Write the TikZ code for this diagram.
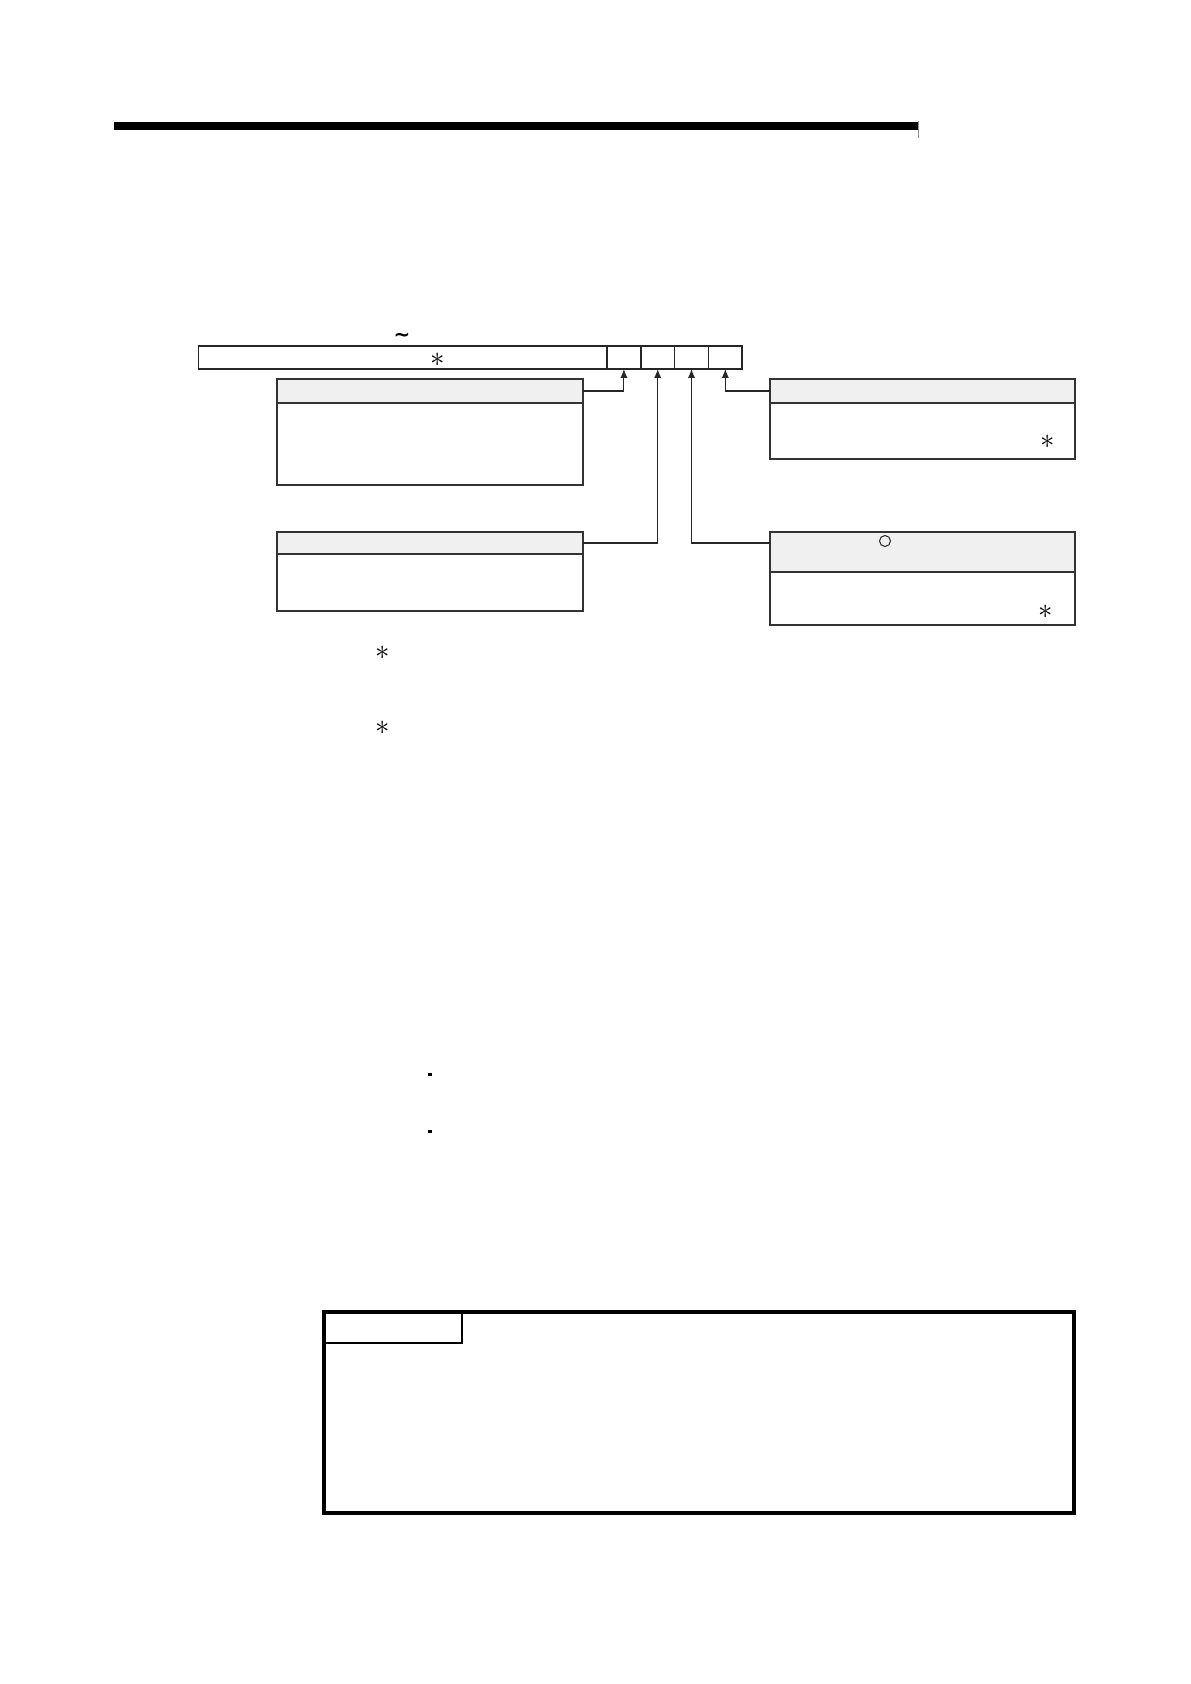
\documentclass[tikz,border=0pt]{standalone}
\usepackage{amsmath}
\usepackage{fontspec}
\newfontfamily\symbfont{DejaVu Sans}
\usetikzlibrary{positioning,arrows.meta}

\begin{document}
\begin{tikzpicture}[x=0.5pt,y=-0.5pt,>={Latex[length=4.5pt,width=3.6pt]},
    box/.style={draw=black!80, line width=0.75pt, inner sep=0pt, outer sep=0pt, anchor=north west, minimum width=153pt},
    head/.style={box, fill=black!6},
    cell/.style={draw=black!85, line width=0.75pt, inner sep=0pt, outer sep=0pt, minimum width=16.9pt, minimum height=11.5pt},
    link/.style={->, line width=0.55pt, draw=black!85},
    mark node/.style={inner sep=0pt, font=\Large},
    dot node/.style={fill=black, inner sep=0pt, minimum width=2pt, minimum height=1.5pt}]

    \useasboundingbox (0,0) rectangle (1190,1684);

    % heading rule
    \draw[line width=4.2pt] (114,125.8) -- (918,125.8);
    \draw[black!45, line width=0.3pt] (918,121) -- (918,138);

    % register with its four flag cells
    \node[cell, anchor=north west, minimum width=204.25pt] (reg) at (198.5,346) {};
    \node[cell] (c1) [right=0pt of reg] {};
    \node[cell] (c2) [right=0pt of c1] {};
    \node[cell] (c3) [right=0pt of c2] {};
    \node[cell] (c4) [right=0pt of c3] {};
    \node[mark node] (regstar) at (438,360) {$\ast$};
    \node[inner sep=0pt, font=\symbfont\bfseries\normalsize] (tilde) at (402,337) {\char"7E};

    % explanation boxes
    \node[head, minimum height=12pt] (lhead1) at (277,379) {};
    \node[box, minimum height=41pt] (lbody1) [below=0pt of lhead1] {};
    \node[head, minimum height=11pt] (lhead2) at (277,532) {};
    \node[box, minimum height=28.5pt] (lbody2) [below=0pt of lhead2] {};

    \node[head, minimum width=152.5pt, minimum height=12pt] (rhead1) at (770,379) {};
    \node[box, minimum width=152.5pt, minimum height=28pt] (rbody1) [below=0pt of rhead1] {};
    \node[head, minimum width=152.5pt, minimum height=20pt] (rhead2) at (770,532) {};
    \node[box, minimum width=152.5pt, minimum height=26.5pt] (rbody2) [below=0pt of rhead2] {};

    \node[mark node] (rstar1) at (1048,442) {$\ast$};
    \node[circle, draw=black!85, line width=0.5pt, inner sep=0pt, minimum size=5.5pt] (ring) at (885,541) {};
    \node[mark node] (rstar2) at (1046,612) {$\ast$};

    \draw[link] (lhead1.east) -| (c1.south);
    \draw[link] (lhead2.east) -| (c2.south);
    \draw[link] ([yshift=-5.5pt]rhead2.north west) -| (c3.south);
    \draw[link] (rhead1.west) -| (c4.south);

    % notes
    \node[mark node] (star1) at (383,653) {$\ast$};
    \node[mark node] (star2) at (383,728) {$\ast$};
    \node[dot node] (dot1) at (430,1074) {};
    \node[dot node] (dot2) at (430,1131) {};

    % point box
    \node[draw, line width=1.6pt, inner sep=0pt, outer sep=0pt, anchor=north west,
          minimum width=375pt, minimum height=100.5pt] (note) at (324,1312) {};
    \node[draw, line width=0.6pt, inner sep=0pt, outer sep=0pt, anchor=north west,
          minimum width=69pt, minimum height=15.5pt] (tab) at (324,1312) {};
\end{tikzpicture}
\end{document}
